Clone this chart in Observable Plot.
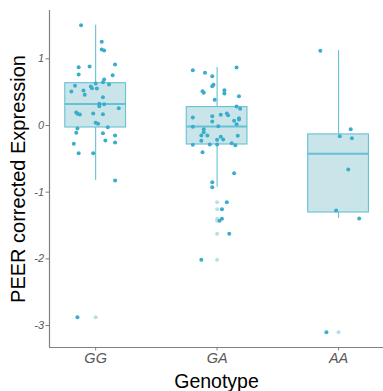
<!DOCTYPE html>
<html>
<head>
<meta charset="utf-8">
<script src="https://cdn.jsdelivr.net/npm/d3@7"></script>
<script src="https://cdn.jsdelivr.net/npm/@observablehq/plot@0.6"></script>
<style>
  html, body { margin: 0; padding: 0; background: #fff; }
</style>
</head>
<body>
<div id="chart"></div>
<script>
// Genotype groups, drawn left to right at positions 1, 2, 3
const genotypes = ["GG", "GA", "AA"];

// PEER corrected expression per sample, with each sample's horizontal jitter (in group units)
const ggValues = [1.504, 1.255, 1.14, 1.125, 0.875, 0.885, 0.915, 0.765, 0.755, 0.69, 0.65, 0.63, 0.615, 0.595, 0.585,
  0.56, 0.555, 0.51, 0.525, 0.46, 0.425, 0.325, 0.32, 0.29, 0.26, 0.195, 0.175, 0.165, 0.18, 0.17, 0.04, 0.025,
  -0.025, -0.045, -0.11, -0.115, -0.15, -0.225, -0.255, -0.275, -0.415, -0.415, -0.825, -2.875];
const ggJitter = [-0.12, 0.05, 0.05, 0.07, -0.14, -0.05, 0.16, -0.14, 0.14, 0.07, 0.06, 0.0, 0.11, -0.17, -0.04,
  -0.03, 0.01, -0.2, -0.1, -0.09, 0.06, 0.03, 0.07, 0.03, 0.19, -0.16, -0.15, -0.13, -0.02, 0.06, 0.0, 0.02,
  0.1, -0.15, -0.16, 0.06, 0.16, 0.08, 0.16, -0.18, -0.14, -0.02, 0.16, -0.15];

const gaValues = [0.83, 0.79, 0.74, 0.87, 0.61, 0.59, 0.515, 0.49, 0.53, 0.48, 0.44, 0.385, 0.285, 0.25, 0.12,
  0.14, 0.16, 0.18, 0.155, 0.11, 0.09, 0.07, 0.06, 0.02, -0.01, -0.02, -0.055, -0.1, -0.15, -0.15, -0.23,
  -0.17, -0.215, -0.21, -0.155, -0.29, -0.285, -0.285, -0.265, -0.295, -0.40, -0.715, -0.85, -0.925,
  -1.15, -1.255, -1.40, -1.43, -1.625, -2.015];
const gaJitter = [-0.2, -0.1, -0.04, 0.16, -0.03, -0.04, -0.12, -0.11, 0.06, 0.06, 0.18, -0.02, 0.16, 0.19, -0.2,
  -0.04, 0.03, 0.08, 0.09, 0.18, 0.18, 0.14, -0.04, 0.16, 0.01, -0.2, -0.11, -0.11, -0.13, -0.08, -0.13,
  0.03, 0.0, 0.05, 0.17, -0.2, -0.06, 0.0, 0.12, 0.15, -0.12, 0.14, -0.04, -0.04,
  0.08, 0.04, 0.04, 0.02, 0.1, -0.13];

const aaValues = [1.12, -0.055, -0.16, -0.19, -0.66, -1.275, -1.395, -3.10];
const aaJitter = [-0.15, 0.1, 0.01, 0.11, 0.08, -0.02, 0.17, -0.1];

const yTicks = [-3, -2, -1, 0, 1];
const xTitle = "Genotype";
const yTitle = "PEER corrected Expression";

const pointColor = "#3aadca";
const boxFill = "#c9e5ea";
const boxStroke = "#66c1d4";
const outlierColor = "#b8dfe8";
const axisColor = "#808080";

const groups = [ggValues, gaValues, aaValues];
const jitters = [ggJitter, gaJitter, aaJitter];

// one row per sample
const samples = groups.flatMap((vals, i) =>
  vals.map((v, j) => ({pos: i + 1, value: v, jitter: jitters[i][j]})));

// Tukey box statistics per genotype (quartiles, 1.5 IQR whiskers, outliers)
const stats = groups.map((vals, i) => {
  const v = [...vals].sort(d3.ascending);
  const q1 = d3.quantile(v, 0.25), med = d3.quantile(v, 0.5), q3 = d3.quantile(v, 0.75);
  const iqr = q3 - q1;
  const inside = v.filter(d => d >= q1 - 1.5 * iqr && d <= q3 + 1.5 * iqr);
  return {pos: i + 1, q1, med, q3, lo: d3.min(inside), hi: d3.max(inside),
    outliers: v.filter(d => d < q1 - 1.5 * iqr || d > q3 + 1.5 * iqr)};
});
const outliers = stats.flatMap(s => s.outliers.map(v => ({pos: s.pos, value: v})));

const halfBox = 0.25;
const xDomain = [0.62, 3.37];
const yDomain = [-3.33, 1.725];

const chart = Plot.plot({
  width: 383,
  height: 391,
  marginLeft: 49,
  marginRight: 0,
  marginTop: 10,
  marginBottom: 44,
  style: {fontFamily: "'Liberation Sans', Arial, sans-serif", background: "#fff", color: "#4d4d4d"},
  x: {type: "linear", domain: xDomain},
  y: {domain: yDomain},
  marks: [
    // whiskers
    Plot.ruleX(stats, {x: "pos", y1: "q3", y2: "hi", stroke: boxStroke, strokeWidth: 1.1}),
    Plot.ruleX(stats, {x: "pos", y1: "lo", y2: "q1", stroke: boxStroke, strokeWidth: 1.1}),
    // boxes
    Plot.rect(stats, {x1: d => d.pos - halfBox, x2: d => d.pos + halfBox, y1: "q1", y2: "q3",
      fill: boxFill, stroke: boxStroke, strokeWidth: 1.1}),
    // medians
    Plot.ruleY(stats, {x1: d => d.pos - halfBox, x2: d => d.pos + halfBox, y: "med",
      stroke: boxStroke, strokeWidth: 2}),
    // boxplot outliers
    Plot.dot(outliers, {x: "pos", y: "value", r: 2, fill: outlierColor, stroke: "none"}),
    // jittered samples
    Plot.dot(samples, {x: d => d.pos + d.jitter, y: "value", r: 2, fill: pointColor, stroke: "none"}),
    // axis lines
    Plot.ruleX([xDomain[0]], {stroke: axisColor, strokeWidth: 1.2}),
    Plot.ruleY([yDomain[0]], {stroke: axisColor, strokeWidth: 1.2}),
    Plot.axisY({ticks: yTicks, tickFormat: d => `${d}`, tickSize: 3.5, tickPadding: 2, fontSize: 11,
      fontStyle: "italic", stroke: axisColor, fill: "#595959", label: null}),
    Plot.axisX({ticks: [1, 2, 3], tickFormat: i => genotypes[i - 1], tickSize: 3.5, tickPadding: 1.5,
      fontSize: 14.5, fontStyle: "italic", stroke: axisColor, fill: "#595959", label: null}),
    // axis titles
    Plot.text([yTitle], {frameAnchor: "left", textAnchor: "middle", rotate: -90, dx: -31,
      lineAnchor: "middle", fontSize: 20, fill: "#000"}),
    Plot.text([xTitle], {frameAnchor: "bottom", textAnchor: "middle", dy: 34, lineAnchor: "middle",
      fontSize: 19.5, fill: "#000"})
  ]
});

document.getElementById("chart").appendChild(chart);
</script>
</body>
</html>
